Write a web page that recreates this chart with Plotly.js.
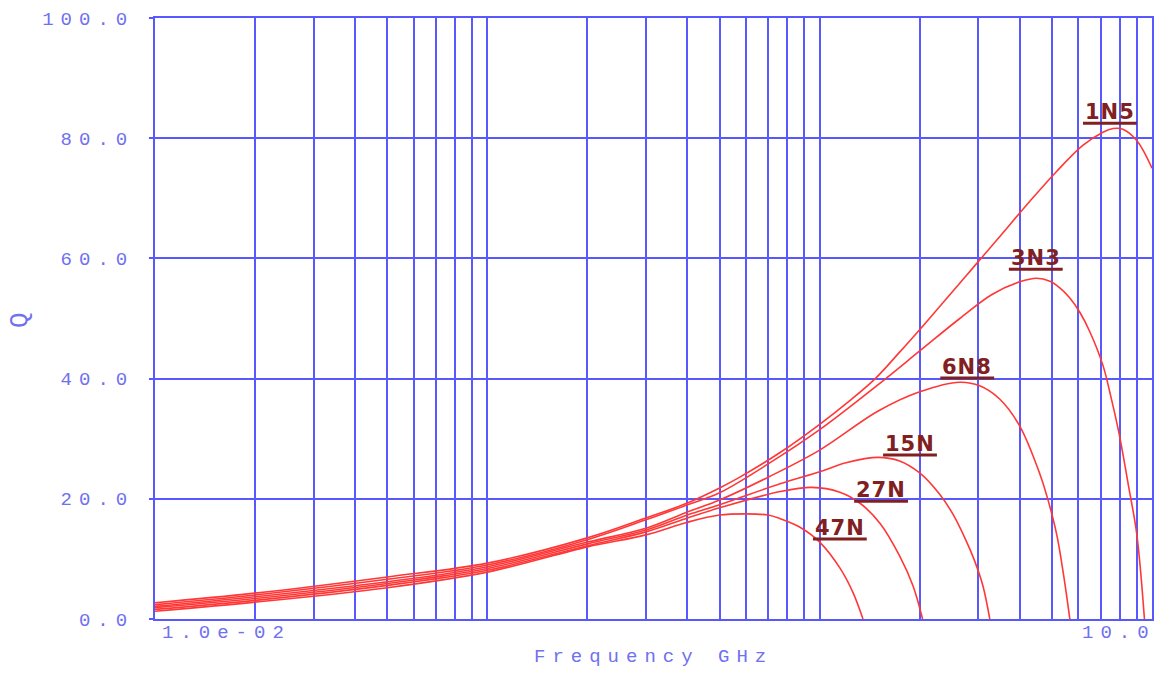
<!DOCTYPE html>
<html>
<head>
<meta charset="utf-8">
<script src="https://cdn.plot.ly/plotly-3.0.1.min.js"></script>
<style>
  html, body { margin: 0; padding: 0; background: #ffffff; }
  #chart { width: 1165px; height: 673px; }
</style>
</head>
<body>
<div id="chart"></div>
<script>
// Inductor quality factor Q versus frequency (GHz), one curve per part value.
const freq_1N5 = [0.01, 0.02, 0.05, 0.1, 0.2, 0.3, 0.4, 0.5, 0.575, 0.76, 1.0, 1.23, 1.47, 1.74, 2.07, 2.46, 2.93, 3.49, 4.29, 5.17, 6.19, 7.12, 7.63, 8.17, 9.0, 10.0];
const q_1N5    = [2.7, 4.3, 7.0, 9.3, 13.5, 16.8, 19.3, 21.8, 23.6, 27.7, 32.4, 36.3, 40.0, 44.4, 49.1, 53.9, 58.8, 63.7, 69.5, 74.5, 78.8, 81.0, 81.6, 81.5, 79.6, 75.0];

const freq_3N3 = [0.01, 0.02, 0.05, 0.1, 0.2, 0.3, 0.4, 0.5, 0.7, 1.0, 1.5, 2.0, 2.64, 3.3, 4.0, 4.5, 4.93, 5.28, 5.66, 6.07, 6.5, 7.12, 7.52, 7.95, 8.52, 9.0, 9.49];
const q_3N3    = [2.4, 4.0, 6.6, 9.0, 13.2, 16.5, 19.0, 21.0, 25.8, 31.5, 39.0, 44.6, 50.0, 54.0, 56.1, 56.7, 56.2, 55.1, 53.4, 51.0, 47.8, 42.2, 37.0, 31.0, 21.8, 14.1, 0.0];

const freq_6N8 = [0.01, 0.02, 0.05, 0.1, 0.2, 0.3, 0.4, 0.5, 0.7, 1.0, 1.5, 2.0, 2.64, 3.03, 3.48, 4.0, 4.6, 4.86, 5.17, 5.42, 5.66];
const q_6N8    = [2.1, 3.7, 6.2, 8.7, 12.8, 15.1, 17.8, 19.8, 23.6, 28.1, 34.6, 37.8, 39.4, 38.8, 36.6, 32.1, 24.1, 19.9, 14.0, 7.3, 0.0];

const freq_15N = [0.01, 0.02, 0.05, 0.1, 0.2, 0.3, 0.4, 0.5, 0.76, 1.0, 1.2, 1.5, 1.74, 2.0, 2.3, 2.52, 2.76, 2.92, 3.1, 3.25];
const q_15N    = [1.9, 3.4, 5.9, 8.4, 12.5, 14.8, 17.3, 19.0, 22.5, 24.5, 26.0, 26.9, 26.3, 24.3, 20.7, 17.4, 13.0, 9.8, 5.5, 0.0];

const freq_27N = [0.01, 0.02, 0.05, 0.1, 0.2, 0.3, 0.4, 0.5, 0.76, 0.947, 1.15, 1.32, 1.52, 1.74, 1.91, 2.04];
const q_27N    = [1.6, 3.1, 5.6, 8.1, 12.2, 14.5, 16.8, 18.5, 21.2, 21.9, 21.1, 19.3, 15.9, 10.5, 5.5, 0.0];

const freq_47N = [0.01, 0.02, 0.05, 0.1, 0.2, 0.3, 0.4, 0.5, 0.6, 0.7, 0.76, 0.87, 1.0, 1.15, 1.26, 1.35];
const q_47N    = [1.3, 2.8, 5.2, 7.8, 12.0, 14.0, 16.1, 17.3, 17.5, 17.3, 16.7, 15.3, 12.8, 8.5, 4.4, 0.0];

const partNames = ['1N5', '3N3', '6N8', '15N', '27N', '47N'];
const yTickValues = [0, 20, 40, 60, 80, 100];
const yTickLabels = ['0.0', '20.0', '40.0', '60.0', '80.0', '100.0'];
const xEndLabels = ['1.0e-02', '10.0'];
const xTitle = 'Frequency GHz';
const yTitle = 'Q';

// Label anchor points (frequency GHz, Q) for the part names, sitting on an underline.
const labelAnchors = {
  '1N5': [7.47, 82.5],
  '3N3': [4.47, 58.2],
  '6N8': [2.78, 40.1],
  '15N': [1.87, 27.3],
  '27N': [1.53, 19.6],
  '47N': [1.15, 13.3]
};

const series = {
  '1N5': [freq_1N5, q_1N5],
  '3N3': [freq_3N3, q_3N3],
  '6N8': [freq_6N8, q_6N8],
  '15N': [freq_15N, q_15N],
  '27N': [freq_27N, q_27N],
  '47N': [freq_47N, q_47N]
};

const GRID = 'rgb(88,88,255)';
const TEXT = 'rgb(112,112,240)';
const CURVE = 'rgb(255,55,55)';
const LABEL = 'rgb(128,32,32)';
const MONO = 'Liberation Mono, DejaVu Sans Mono, monospace';
const spaced = s => '<span style="letter-spacing:7px">' + s + '</span>';

const xMinLog = -2, xMaxLog = 1;
const toPaperX = f => (Math.log10(f) - xMinLog) / (xMaxLog - xMinLog);

const traces = partNames.map(name => ({
  type: 'scatter',
  mode: 'lines',
  name: name,
  x: series[name][0],
  y: series[name][1],
  line: { color: CURVE, width: 1.6, shape: 'spline', smoothing: 1 },
  hoverinfo: 'skip',
  cliponaxis: true
}));

const annotations = [];
const shapes = [];

partNames.forEach(name => {
  const [f, q] = labelAnchors[name];
  annotations.push({
    xref: 'x', yref: 'y',
    x: Math.log10(f), y: q,
    xanchor: 'center', yanchor: 'bottom',
    yshift: -3,
    showarrow: false,
    text: '<b><span style="letter-spacing:1px">' + name + '</span></b>',
    font: { family: 'DejaVu Sans, Liberation Sans, sans-serif', size: 21, color: LABEL }
  });
  const px = toPaperX(f);
  shapes.push({
    type: 'line', xref: 'paper', yref: 'paper',
    x0: px - 0.027, x1: px + 0.027, y0: q / 100, y1: q / 100,
    line: { color: LABEL, width: 3 }
  });
});

// Axis end labels and titles
annotations.push(
  { xref: 'paper', yref: 'paper', x: 0, y: 0, xanchor: 'left', yanchor: 'middle',
    xshift: 5, yshift: -14, showarrow: false, text: spaced(xEndLabels[0]),
    font: { family: MONO, size: 19, color: TEXT } },
  { xref: 'paper', yref: 'paper', x: 1, y: 0, xanchor: 'right', yanchor: 'middle',
    xshift: 6, yshift: -14, showarrow: false, text: spaced(xEndLabels[1]),
    font: { family: MONO, size: 19, color: TEXT } },
  { xref: 'paper', yref: 'paper', x: 0.5, y: 0, xanchor: 'center', yanchor: 'middle',
    yshift: -38, showarrow: false, text: spaced(xTitle),
    font: { family: MONO, size: 19, color: TEXT } },
  { xref: 'paper', yref: 'paper', x: 0, y: 0.4975, xanchor: 'center', yanchor: 'middle',
    xshift: -135, textangle: -90, showarrow: false, text: yTitle,
    font: { family: MONO, size: 26, color: TEXT } }
);

const layout = {
  width: 1165, height: 673,
  margin: { l: 155, r: 13, t: 18, b: 54 },
  paper_bgcolor: '#ffffff',
  plot_bgcolor: '#ffffff',
  showlegend: false,
  hovermode: false,
  xaxis: {
    type: 'log',
    range: [xMinLog, xMaxLog],
    dtick: 'D1',
    showticklabels: false,
    ticks: '',
    showgrid: true, gridcolor: GRID, gridwidth: 2,
    zeroline: false,
    showline: true, mirror: true, linecolor: GRID, linewidth: 2
  },
  yaxis: {
    range: [0, 100],
    tickmode: 'array',
    tickvals: yTickValues,
    ticktext: yTickLabels.map(spaced),
    ticks: 'outside', ticklen: 4, tickwidth: 2, tickcolor: GRID,
    ticklabelstandoff: 11,
    tickfont: { family: MONO, size: 19, color: TEXT },
    showgrid: true, gridcolor: GRID, gridwidth: 2,
    zeroline: false,
    showline: true, mirror: true, linecolor: GRID, linewidth: 2
  },
  annotations: annotations,
  shapes: shapes
};

Plotly.newPlot('chart', traces, layout, { staticPlot: true, displayModeBar: false });
</script>
</body>
</html>
